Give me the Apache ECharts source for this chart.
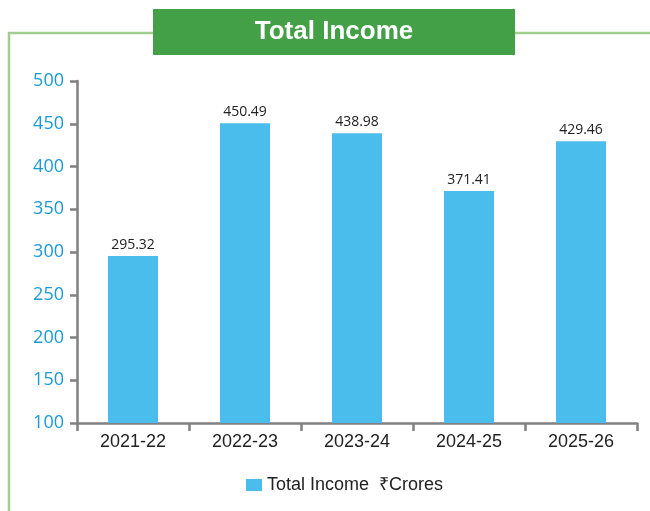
<!DOCTYPE html>
<html><head><meta charset="utf-8">
<script src="https://cdn.jsdelivr.net/npm/echarts@6/dist/echarts.min.js"></script>
<style>html,body{margin:0;padding:0;background:#fff}#c{width:650px;height:511px}</style>
</head><body><div id="c"></div>
<script>
var categories = ['2021-22','2022-23','2023-24','2024-25','2025-26'];
var values = [295.32, 450.49, 438.98, 371.41, 429.46];
var seriesName = 'Total Income  ₹Crores';
var titleText = 'Total Income';
var yMin = 100, yMax = 500, yStep = 50;

var chart = echarts.init(document.getElementById('c'));
chart.setOption({
  animation: false,
  grid: {left: 77, right: 13, top: 81, bottom: 88, containLabel: false},
  graphic: [
    {type: 'polyline', shape: {points: [[9, 511], [9, 33], [650, 33]]}, style: {stroke: '#a1cd8f', lineWidth: 2.5, fill: null}, z: 0},
    {type: 'rect', shape: {x: 153, y: 9, width: 362, height: 46}, style: {fill: '#43a047'}, z: 1},
    {type: 'text', x: 334, y: 32, style: {text: titleText, fill: '#fff', font: 'bold 26px "Liberation Sans", Arial, sans-serif', align: 'center', verticalAlign: 'middle'}, z: 2}
  ],
  legend: {
    top: 471, left: 241, icon: 'rect',
    itemWidth: 16, itemHeight: 12, itemGap: 10,
    textStyle: {fontSize: 18, color: '#222', fontFamily: '"Liberation Sans", Arial, sans-serif'},
    data: [seriesName]
  },
  xAxis: {
    type: 'category', data: categories,
    axisLine: {lineStyle: {color: '#808080', width: 2.5}},
    axisTick: {show: true, length: 8, lineStyle: {color: '#808080', width: 2.5}},
    axisLabel: {fontSize: 18, color: '#222', margin: 10, fontFamily: '"Liberation Sans", Arial, sans-serif'}
  },
  yAxis: {
    type: 'value', min: yMin, max: yMax, interval: yStep,
    axisLine: {show: true, lineStyle: {color: '#808080', width: 2.5}},
    axisTick: {show: true, length: 7, lineStyle: {color: '#808080', width: 2.5}},
    splitLine: {show: false},
    axisLabel: {fontSize: 18, color: '#1a9ad9', margin: 13, fontFamily: '"Open Sans", sans-serif'}
  },
  series: [{
    name: seriesName, type: 'bar', data: values, barWidth: 50,
    itemStyle: {color: '#4bbdec'},
    label: {show: true, position: 'top', distance: 4, fontSize: 14, color: '#222', fontFamily: '"Open Sans", sans-serif'}
  }]
});
</script></body></html>
